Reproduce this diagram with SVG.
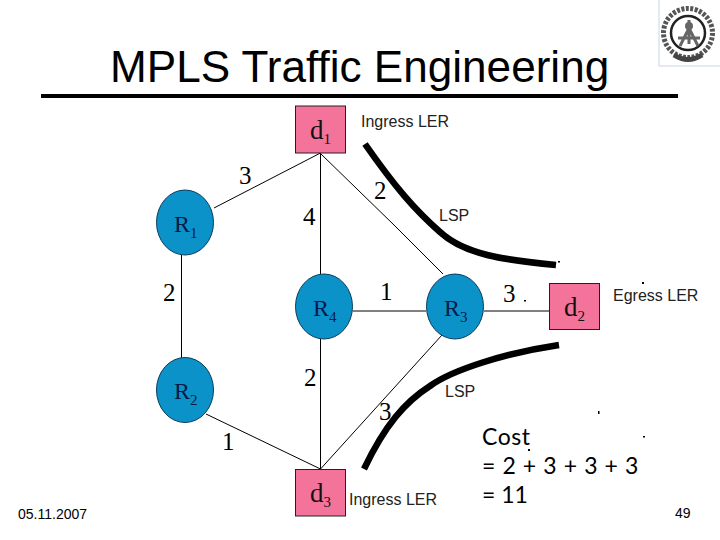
<svg xmlns="http://www.w3.org/2000/svg" width="720" height="540" viewBox="0 0 720 540">
<style>
text{font-family:"Liberation Sans",Arial,sans-serif;fill:#000}
.s{font-family:"Liberation Serif","Times New Roman",serif;font-size:25px}
.dl{font-family:"Liberation Serif","Times New Roman",serif;font-size:27px;fill:#111}
.n{font-family:"Liberation Serif","Times New Roman",serif;font-size:24px;fill:#061a4a}
.sub{font-size:15px}
.l{font-size:16px;fill:#222}
.c{font-family:Lato,sans-serif;font-size:23px}
.r{fill:#0b93c9;stroke:#0a3c5c;stroke-width:1}
.d{fill:#f4739b;stroke:#222;stroke-width:1}
.e{stroke:#000;stroke-width:1;fill:none}
.lsp{stroke:#000;stroke-width:6.500;fill:none}
</style>
<rect width="720" height="540" fill="#fff"/>
<g id="logo" fill="none" stroke="#222">
<path d="M659 0V66H720" stroke="#c9d6e0" stroke-width="1"/>
<circle cx="688" cy="33" r="24.500" stroke-width="5" stroke="#555" stroke-dasharray="3 1.500"/>
<circle cx="688" cy="33" r="17" stroke-width="2.500"/>
<path d="M689 20V44M680 46L689 28L698 46M678 38H700" stroke-width="3" stroke="#666"/>
<circle cx="689" cy="26" r="4" fill="#666" stroke="none"/>
<path d="M674 55Q688 64 702 55" stroke-width="5" stroke="#444"/>
</g>
<g id="title">
<text x="110" y="82" font-size="44.100">MPLS Traffic Engineering</text>
<rect x="41" y="94" width="637" height="4" fill="#000"/>
</g>
<g id="connectors">
<path class="e" d="M320.500 153L214 208"/>
<path class="e" d="M320.500 153V274"/>
<path class="e" d="M321 154L394 225L443 274"/>
<path class="e" d="M181.500 255V358"/>
<path class="e" d="M320.500 339V469"/>
<path class="e" d="M352.700 311H426"/>
<path class="e" d="M484 311H549"/>
<path class="e" d="M206 414L320.500 469"/>
<path class="e" d="M320.500 469L442 335"/>
<path class="lsp" d="M365 144C395 187 415 210 440 232C465 255 505 260 556 265"/>
<path class="lsp" d="M364 469C385 425 405 402 430 386C452 370 505 353 559 345"/>
</g>
<g id="d1"><rect class="d" x="295.500" y="106" width="50" height="47"/><text class="dl" x="310" y="139">d<tspan class="sub" dy="5">1</tspan></text></g>
<g id="d2"><rect class="d" x="549.500" y="283.500" width="50" height="46"/><text class="dl" x="564" y="316">d<tspan class="sub" dy="5">2</tspan></text></g>
<g id="d3"><rect class="d" x="295.500" y="469.500" width="50" height="46.500"/><text class="dl" x="310" y="502">d<tspan class="sub" dy="5">3</tspan></text></g>
<g id="R1"><ellipse class="r" cx="185" cy="222.500" rx="28.500" ry="32.500"/><text class="n" x="174" y="232">R<tspan class="sub" dy="6">1</tspan></text></g>
<g id="R2"><ellipse class="r" cx="185" cy="390" rx="28.500" ry="32.500"/><text class="n" x="174" y="399">R<tspan class="sub" dy="6">2</tspan></text></g>
<g id="R4"><ellipse class="r" cx="324" cy="306.500" rx="28.500" ry="32.500"/><text class="n" x="313" y="316">R<tspan class="sub" dy="6">4</tspan></text></g>
<g id="R3"><ellipse class="r" cx="455" cy="306.500" rx="28.500" ry="32.500"/><text class="n" x="444" y="316">R<tspan class="sub" dy="6">3</tspan></text></g>
<g id="weights">
<text class="s" x="239" y="184">3</text>
<text class="s" x="374" y="199">2</text>
<text class="s" x="303" y="225">4</text>
<text class="s" x="163" y="301">2</text>
<text class="s" x="380" y="300">1</text>
<text class="s" x="503" y="302">3</text>
<text class="s" x="304" y="386">2</text>
<text class="s" x="379" y="420">3</text>
<text class="s" x="222" y="450">1</text>
</g>
<g id="labels">
<text class="l" x="361" y="127">Ingress LER</text>
<text class="l" x="439" y="221">LSP</text>
<text class="l" x="613" y="301">Egress LER</text>
<text class="l" x="445" y="397">LSP</text>
<text class="l" x="349" y="505">Ingress LER</text>
</g>
<g id="cost">
<text class="c" x="482" y="445" letter-spacing="0.500">Cost</text>
<text class="c" x="482" y="474" word-spacing="1.200">= 2 + 3 + 3 + 3</text>
<text class="c" x="482" y="503">= 11</text>
</g>
<g id="specks" fill="#000">
<rect x="558" y="261" width="2" height="1.500"/><rect x="642" y="282" width="2" height="2"/><rect x="524" y="300" width="2" height="1.500"/><rect x="598" y="411" width="1.500" height="3"/><rect x="643" y="436" width="2" height="1.500"/><rect x="528" y="449" width="2" height="2"/>
</g>
<g id="footer">
<text x="18" y="519" font-size="14">05.11.2007</text>
<text x="675" y="518" font-size="14">49</text>
</g>
</svg>
